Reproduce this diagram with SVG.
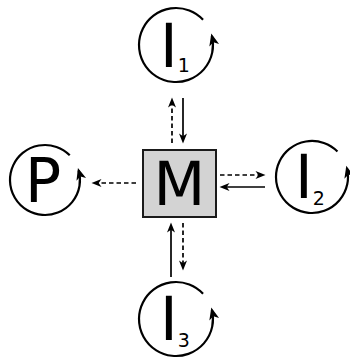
<svg xmlns="http://www.w3.org/2000/svg" width="350" height="358" viewBox="0 0 350 358">
<style>
.lbl{font-family:"DejaVu Sans",sans-serif;fill:#000}
.big{font-size:60px}
.sub{font-size:19px}
.ring{fill:none;stroke:#000;stroke-width:2.2}
.con{fill:none;stroke:#000;stroke-width:1.7}
.dash{stroke-dasharray:4.5 3}
</style>
<defs>
<marker id="ah" markerUnits="userSpaceOnUse" markerWidth="13" markerHeight="10" refX="8.5" refY="4.5" orient="auto">
<path d="M11,4.5 L1,0.5 L3.8,4.5 L1,8.5 Z" fill="#000" stroke="none"/>
</marker>
<marker id="ahc" markerUnits="userSpaceOnUse" markerWidth="14" markerHeight="12" refX="10.5" refY="5.5" orient="auto">
<path d="M13,5.5 L1,0.5 L4.2,5.5 L1,10.5 Z" fill="#000" stroke="none"/>
</marker>
</defs>
<g id="node-M">
<rect x="143" y="150" width="73" height="67" fill="#d3d3d3" stroke="#1a1a1a" stroke-width="2"/>
<text class="lbl big" x="179.5" y="205" text-anchor="middle">M</text>
</g>
<g id="node-I1">
<path class="ring" d="M203.06,19.77 A37,37 0 1 0 211.9,36.05" marker-end="url(#ahc)"/>
<text class="lbl big" x="160" y="67">I<tspan class="sub" dy="5">1</tspan></text>
</g>
<g id="node-I2">
<path class="ring" d="M337.46,151.54 A36,36 0 1 0 346.93,168.29" marker-end="url(#ahc)"/>
<text class="lbl big" x="295" y="198">I<tspan class="sub" dy="7">2</tspan></text>
</g>
<g id="node-I3">
<path class="ring" d="M203.06,293.77 A37,37 0 1 0 211.9,310.05" marker-end="url(#ahc)"/>
<text class="lbl big" x="160" y="340">I<tspan class="sub" dy="7">3</tspan></text>
</g>
<g id="node-P">
<path class="ring" d="M69.75,155.25 A35,35 0 1 0 78.64,170.35" marker-end="url(#ahc)"/>
<text class="lbl big" x="25" y="202">P</text>
</g>
<g id="connectors">
<path class="con dash" d="M172,143 L172,100" marker-end="url(#ah)"/>
<path class="con" d="M183,98 L183,141" marker-end="url(#ah)"/>
<path class="con dash" d="M220,175 L263,175" marker-end="url(#ah)"/>
<path class="con" d="M265,187 L222,187" marker-end="url(#ah)"/>
<path class="con dash" d="M136,183 L94,183" marker-end="url(#ah)"/>
<path class="con" d="M171,277 L171,225" marker-end="url(#ah)"/>
<path class="con dash" d="M183,223 L183,268" marker-end="url(#ah)"/>
</g>
</svg>
